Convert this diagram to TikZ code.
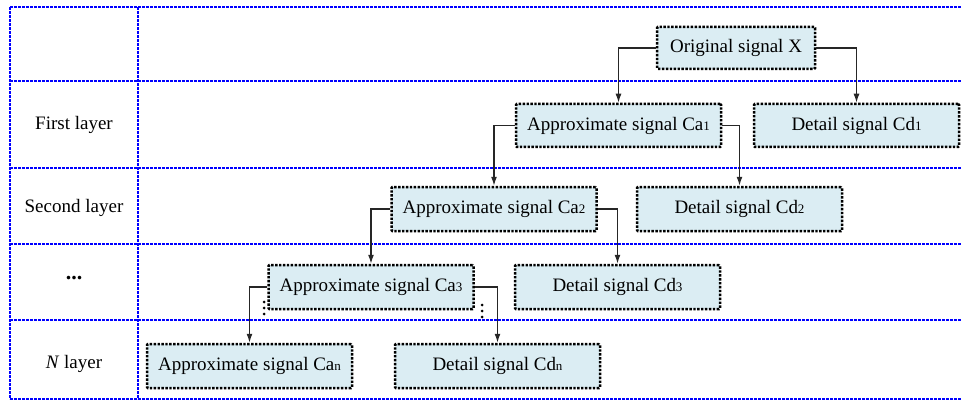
\documentclass[tikz,border=0pt]{standalone}
\usepackage{fontspec}
\setmainfont{Liberation Serif}
\usepackage{tikz}
\usetikzlibrary{arrows.meta}

\definecolor{boxfill}{RGB}{219,237,243}
\newcommand{\idx}[1]{{\fontsize{13}{13}\selectfont #1}}

\tikzset{
  grid/.style = {blue, line width=2.6pt, dash pattern=on 2.6pt off 1.4pt},
  sigbox/.style = {draw=black, fill=boxfill, line width=2.5pt, dash pattern=on 2.4pt off 1.5pt,
                   rounded corners=1pt, minimum width=205pt, minimum height=43pt,
                   inner sep=0pt, font=\fontsize{19}{22}\selectfont},
  layer/.style = {font=\fontsize{19}{22}\selectfont},
  link/.style = {black!85, line width=1.3pt, -{Latex[length=9pt,width=6pt]}},
  dot/.style = {fill=black, draw=none}
}

\begin{document}
\begin{tikzpicture}[x=1pt, y=-1pt]
\useasboundingbox (0,0) rectangle (961,401);
% layer grid
\draw [grid] (10,7) -- (961,7);
\draw [grid] (10,81) -- (961,81);
\draw [grid] (10,168) -- (961,168);
\draw [grid] (10,244) -- (961,244);
\draw [grid] (10,320) -- (961,320);
\draw [grid] (10,399) -- (961,399);
\draw [grid] (10,7) -- (10,399);
\draw [grid] (138,7) -- (138,399);
% layer names
\node [layer] (l1) at (74,125) {First layer};
\node [layer] (l2) at (74,208) {Second layer};
\node [font=\fontsize{22}{22}\selectfont\bfseries] (l3) at (74,278) {...};
\node [layer] (ln) at (74,364) {\textit{N} layer};
% signals
\node [sigbox, minimum width=158pt, minimum height=42pt] (x) at (736,48) {Original signal X};
\node [sigbox] (ca1) at (618.5,125.5) {Approximate signal Ca\idx{1}};
\node [sigbox] (cd1) at (856.5,125.5) {Detail signal Cd\idx{1}};
\node [sigbox, minimum height=44pt] (ca2) at (494,209) {Approximate signal Ca\idx{2}};
\node [sigbox, minimum height=44pt] (cd2) at (739.5,209) {Detail signal Cd\idx{2}};
\node [sigbox, minimum height=44pt] (ca3) at (371,287) {Approximate signal Ca\idx{3}};
\node [sigbox, minimum height=44pt] (cd3) at (617.5,287) {Detail signal Cd\idx{3}};
\node [sigbox, minimum height=44pt] (can) at (249.5,366) {Approximate signal Ca\idx{n}};
\node [sigbox, minimum height=44pt] (cdn) at (497.5,366) {Detail signal Cd\idx{n}};
% decomposition
\draw [link] (x.west) -| (ca1.north);
\draw [link] (x.east) -| (cd1.north);
\draw [link] (ca1.west) -| (ca2.north);
\draw [link] (ca1.east) -| (cd2.north);
\draw [link] (ca2.west) -| (ca3.north);
\draw [link] (ca2.east) -| (cd3.north);
\draw [link] (ca3.west) -| (can.north);
\draw [link] (ca3.east) -| (cdn.north);
% continuation dots
\foreach \y in {302,308,314}
  \fill [dot] (264,\y) circle (1.5pt);
\foreach \y in {305,311,317}
  \fill [dot] (482,\y) circle (1.5pt);
\end{tikzpicture}
\end{document}
